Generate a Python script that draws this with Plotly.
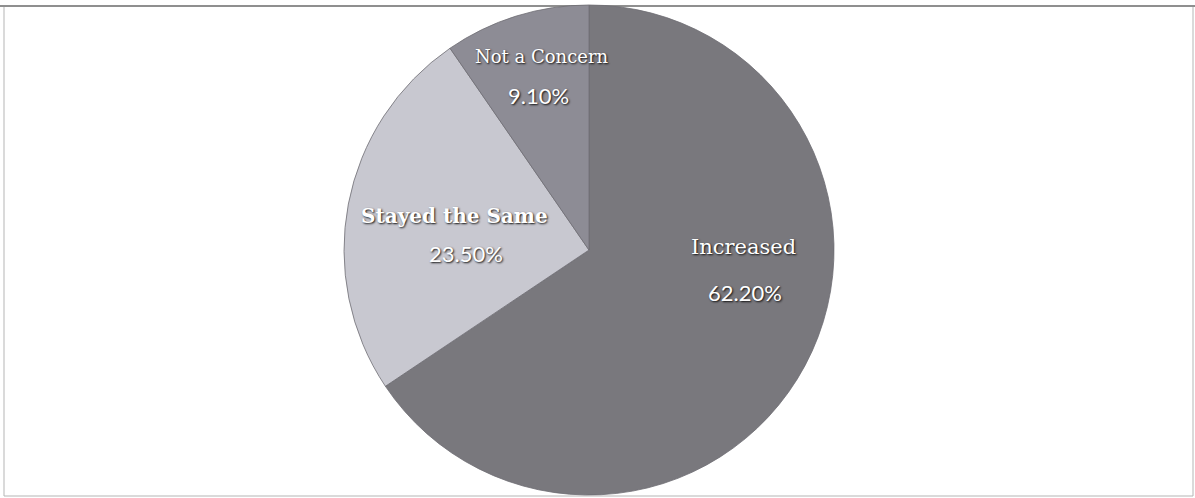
import plotly.graph_objects as go

# Survey responses (share of respondents, %)
categories = ["Increased", "Stayed the Same", "Not a Concern"]
values = [62.2, 23.5, 9.1]
slice_colors = ["#79787d", "#c8c8d0", "#8d8c95"]

W, H = 1195, 498

fig = go.Figure()
fig.add_trace(go.Pie(
    labels=categories,
    values=values,
    sort=False,
    direction="clockwise",
    rotation=0,
    textinfo="none",
    hoverinfo="label+value",
    showlegend=False,
    marker=dict(colors=slice_colors, line=dict(color="#6e6d73", width=0.8)),
    domain=dict(x=[(589 - 245) / W, (589 + 245) / W],
                y=[(H - 250 - 245) / H, (H - 250 + 245) / H]),
))

# label placement (pixel centres) per category
label_pos = {
    "Increased": ((743, 247), (745, 292), 21, "normal"),
    "Stayed the Same": ((454, 216), (466, 253), 20, "bold"),
    "Not a Concern": ((542, 57), (538, 96), 18, "normal"),
}
shadow = "1px 1px 2px rgba(10,10,10,0.95)"
for cat, val in zip(categories, values):
    (lx, ly), (px, py), fs, fw = label_pos[cat]
    fig.add_annotation(
        x=lx / W, y=1 - ly / H, xref="paper", yref="paper",
        text=cat, showarrow=False, xanchor="center", yanchor="middle",
        font=dict(family="DejaVu Serif", size=fs, color="white",
                  weight=fw, shadow=shadow),
    )
    fig.add_annotation(
        x=px / W, y=1 - py / H, xref="paper", yref="paper",
        text=f"{val:.2f}%", showarrow=False, xanchor="center", yanchor="middle",
        font=dict(family="Lato", size=22, color="white", shadow=shadow),
    )

# thin frame around the chart area
fig.add_shape(type="rect", xref="paper", yref="paper",
              x0=4 / W, x1=1193 / W, y0=1 - 496 / H, y1=1 - 6 / H,
              line=dict(color="#b5b5b5", width=1), layer="below")
fig.add_shape(type="line", xref="paper", yref="paper",
              x0=0, x1=1, y0=1 - 6 / H, y1=1 - 6 / H,
              line=dict(color="#8f8f8f", width=2), layer="below")

fig.update_layout(
    width=W, height=H,
    margin=dict(l=0, r=0, t=0, b=0),
    paper_bgcolor="white",
    plot_bgcolor="white",
)

fig.write_html("out.html")
